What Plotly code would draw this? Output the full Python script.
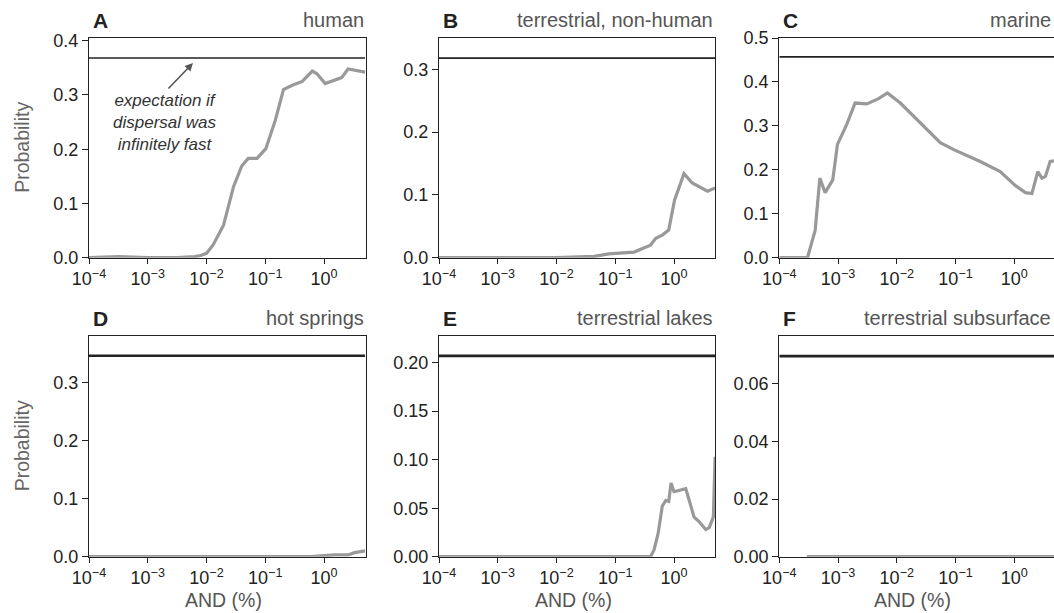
import plotly.graph_objects as go

# ---------------- data (x given as log10 of AND %) ----------------
a_logx = [-4.0, -3.5, -3.0, -2.5, -2.2, -2.1, -2.0, -1.89, -1.71, -1.54, -1.40, -1.29, -1.14, -0.99, -0.83, -0.69, -0.54, -0.37, -0.20, -0.12, 0.02, 0.30, 0.41, 0.70]
a_prob = [0.0, 0.002, 0.0, 0.0, 0.002, 0.004, 0.008, 0.023, 0.06, 0.131, 0.169, 0.183, 0.183, 0.201, 0.253, 0.31, 0.318, 0.325, 0.344, 0.339, 0.321, 0.332, 0.348, 0.342]

b_logx = [-4.0, -2.0, -1.36, -1.11, -0.68, -0.40, -0.31, -0.20, -0.09, 0.01, 0.17, 0.31, 0.57, 0.70]
b_prob = [0.0, 0.0, 0.002, 0.006, 0.009, 0.02, 0.031, 0.036, 0.044, 0.092, 0.134, 0.119, 0.106, 0.111]

c_logx = [-4.0, -3.52, -3.39, -3.31, -3.22, -3.09, -3.01, -2.85, -2.71, -2.51, -2.31, -2.16, -1.94, -1.57, -1.26, -1.03, -0.58, -0.24, -0.125, 0.02, 0.19, 0.30, 0.40, 0.47, 0.53, 0.61, 0.70]
c_prob = [0.0, 0.0, 0.062, 0.181, 0.148, 0.177, 0.258, 0.304, 0.352, 0.350, 0.362, 0.375, 0.352, 0.304, 0.262, 0.246, 0.219, 0.196, 0.181, 0.164, 0.148, 0.146, 0.196, 0.181, 0.185, 0.219, 0.221]

d_logx = [-4.0, -0.22, 0.18, 0.41, 0.52, 0.70]
d_prob = [0.0, 0.0, 0.003, 0.003, 0.007, 0.01]

e_logx = [-4.0, -0.40, -0.34, -0.27, -0.20, -0.14, -0.09, -0.05, 0.0, 0.20, 0.26, 0.34, 0.43, 0.54, 0.60, 0.67, 0.70]
e_prob = [0.0, 0.0, 0.007, 0.024, 0.052, 0.058, 0.057, 0.076, 0.067, 0.070, 0.058, 0.041, 0.036, 0.028, 0.030, 0.041, 0.103]

f_logx = [-3.53, 0.70]
f_prob = [0.0, 0.0]

# expectation if dispersal was infinitely fast
expectation = [0.368, 0.318, 0.457, 0.346, 0.207, 0.0696]

letters = ["A", "B", "C", "D", "E", "F"]
titles = ["human", "terrestrial, non-human", "marine", "hot springs", "terrestrial lakes", "terrestrial subsurface"]

y_max = [0.405, 0.35, 0.5, 0.38, 0.2275, 0.0766]
y_ticks = [[0, 0.1, 0.2, 0.3, 0.4], [0, 0.1, 0.2, 0.3], [0, 0.1, 0.2, 0.3, 0.4, 0.5],
           [0, 0.1, 0.2, 0.3], [0, 0.05, 0.1, 0.15, 0.2], [0, 0.02, 0.04, 0.06]]
y_fmt = [".1f", ".1f", ".1f", ".1f", ".2f", ".2f"]

x_tickvals = [1e-4, 1e-3, 1e-2, 1e-1, 1]
x_ticktext = ["10<sup>\u22124</sup>", "10<sup>\u22123</sup>", "10<sup>\u22122</sup>", "10<sup>\u22121</sup>", "10<sup>0</sup>"]

series = [(a_logx, a_prob), (b_logx, b_prob), (c_logx, c_prob),
          (d_logx, d_prob), (e_logx, e_prob), (f_logx, f_prob)]

# ---------------- layout geometry ----------------
W, H = 1054, 613
col_px = [(89.0, 365.7), (439.0, 715.0), (779.3, 1054.0)]
row_px = [(38.0, 257.7), (336.0, 556.7)]
px_per_decade = 58.75
FONT = "Liberation Sans, Arial, Helvetica, sans-serif"

fig = go.Figure()
layout = dict(
    width=W, height=H,
    margin=dict(l=0, r=0, t=0, b=0),
    paper_bgcolor="white", plot_bgcolor="white",
    showlegend=False,
    font=dict(family=FONT, size=18, color="#222"),
)
annotations = []

for i in range(6):
    r, c = divmod(i, 3)
    x0, x1 = col_px[c]
    ytop, ybot = row_px[r]
    sfx = "" if i == 0 else str(i + 1)
    xr_end = -4 + (x1 - x0) / px_per_decade
    lx, py = series[i]
    fig.add_trace(go.Scatter(x=[10 ** v for v in lx], y=py, mode="lines",
                             line=dict(color="#999999", width=3.2),
                             xaxis="x" + sfx, yaxis="y" + sfx, hoverinfo="skip"))
    fig.add_trace(go.Scatter(x=[1e-4, 5], y=[expectation[i]] * 2, mode="lines",
                             line=dict(color="#222222", width=1.6 if r == 0 else 2.6),
                             xaxis="x" + sfx, yaxis="y" + sfx, hoverinfo="skip"))
    layout["xaxis" + sfx] = dict(
        type="log", domain=[x0 / W, x1 / W], range=[-4, xr_end],
        anchor="y" + sfx, tickvals=x_tickvals, ticktext=x_ticktext,
        showline=True, linecolor="#222", linewidth=1.2, mirror=True,
        ticks="outside", ticklen=5, tickwidth=1.2, tickcolor="#222",
        showgrid=False, zeroline=False, automargin=False,
        tickfont=dict(size=18, color="#222"), layer="below traces",
    )
    layout["yaxis" + sfx] = dict(
        domain=[1 - ybot / H, 1 - ytop / H], range=[0, y_max[i]],
        anchor="x" + sfx, tickvals=y_ticks[i], tickformat=y_fmt[i],
        showline=True, linecolor="#222", linewidth=1.2, mirror=(c != 2),
        ticks="outside", ticklen=6, tickwidth=1.2, tickcolor="#222",
        showgrid=False, zeroline=False, automargin=False,
        tickfont=dict(size=18, color="#222"), layer="below traces",
    )
    # panel letter
    annotations.append(dict(text="<b>" + letters[i] + "</b>", xref="paper", yref="paper",
                            x=(x0 + 2) / W, y=1 - (ytop - 18) / H, xanchor="left", yanchor="middle",
                            showarrow=False, font=dict(size=21, color="#222")))
    # panel title
    annotations.append(dict(text=titles[i], xref="paper", yref="paper",
                            x=min(x1, 1053) / W, y=1 - (ytop - 18) / H, xanchor="right", yanchor="middle",
                            showarrow=False, font=dict(size=20, color="#555")))
    if c == 0:
        annotations.append(dict(text="Probability", xref="paper", yref="paper",
                                x=22 / W, y=1 - ((ytop + ybot) / 2) / H, textangle=-90,
                                xanchor="center", yanchor="middle", showarrow=False,
                                font=dict(size=19.5, color="#666")))
    if r == 1:
        annotations.append(dict(text="AND (%)", xref="paper", yref="paper",
                                x=((x0 + min(x1, 1055.4)) / 2 - 4) / W, y=1 - 600 / H,
                                xanchor="center", yanchor="middle", showarrow=False,
                                font=dict(size=19.5, color="#555")))

# arrow + italic note in panel A
annotations.append(dict(x=-2.23, y=0.359, xref="x", yref="y", text="", showarrow=True,
                        ax=-26, ay=27, arrowhead=2, arrowsize=1, arrowwidth=1.6, arrowcolor="#555"))
annotations.append(dict(x=-2.71, y=0.25, xref="x", yref="y",
                        text="<i>expectation if<br>dispersal was<br>infinitely fast</i>",
                        showarrow=False, align="center", xanchor="center", yanchor="middle",
                        font=dict(size=17, color="#333")))

layout["annotations"] = annotations
fig.update_layout(**layout)
fig.write_html("out.html", config={"displayModeBar": False},
               post_script="document.body.style.margin='0';document.body.style.overflow='hidden';")
